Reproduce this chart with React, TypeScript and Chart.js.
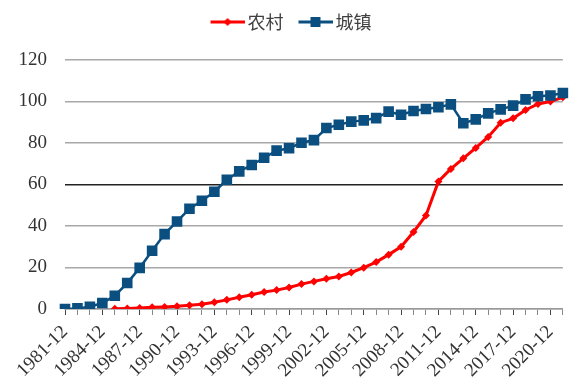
import React, { useEffect, useRef } from 'react';
import { Chart, registerables } from 'chart.js';

Chart.register(...registerables);

const categories = [
  '1981-12', '1982-12', '1983-12', '1984-12', '1985-12', '1986-12', '1987-12', '1988-12', '1989-12', '1990-12',
  '1991-12', '1992-12', '1993-12', '1994-12', '1995-12', '1996-12', '1997-12', '1998-12', '1999-12', '2000-12',
  '2001-12', '2002-12', '2003-12', '2004-12', '2005-12', '2006-12', '2007-12', '2008-12', '2009-12', '2010-12',
  '2011-12', '2012-12', '2013-12', '2014-12', '2015-12', '2016-12', '2017-12', '2018-12', '2019-12', '2020-12',
  '2021-12',
];

const shownTickLabels = [
  '1981-12', '1984-12', '1987-12', '1990-12', '1993-12', '1996-12', '1999-12',
  '2002-12', '2005-12', '2008-12', '2011-12', '2014-12', '2017-12', '2020-12',
];

const rural = [
  null, null, null, null,
  0.1, 0.3, 0.5, 0.8, 1.0, 1.3, 1.8, 2.3, 3.3, 4.4, 5.7, 6.9, 8.2, 9.1, 10.4,
  12.0, 13.3, 14.6, 15.7, 17.6, 19.9, 22.6, 26.2, 30.0, 37.1, 45.1, 61.5, 67.5, 72.6, 77.6,
  82.9, 89.8, 91.9, 95.9, 98.8, 100.0, 102.0,
];

const urban = [
  0, 0.3, 1.1, 2.9, 6.4, 12.5, 19.8, 28.1, 36.1, 42.2, 48.3, 52.2, 56.5, 62.3, 66.3, 69.4, 72.9, 76.3, 77.5,
  80.1, 81.4, 87.2, 88.8, 90.3, 90.9, 92.0, 95.1, 93.6, 95.4, 96.4, 97.2, 98.6, 89.5, 91.4, 94.3, 96.2,
  98.0, 101.0, 102.5, 102.9, 104.1,
];

const yTicks = [0, 20, 40, 60, 80, 100, 120];

const RED = '#ff0000';
const BLUE = '#0a4f80';

function legendIcon(color: string, marker: 'diamond' | 'square'): HTMLCanvasElement {
  const c = document.createElement('canvas');
  c.width = 40;
  c.height = 14;
  const ctx = c.getContext('2d')!;
  ctx.strokeStyle = color;
  ctx.lineWidth = 3;
  ctx.beginPath();
  ctx.moveTo(6, 7);
  ctx.lineTo(40, 7);
  ctx.stroke();
  ctx.fillStyle = color;
  const cx = 23;
  if (marker === 'diamond') {
    ctx.beginPath();
    ctx.moveTo(cx, 3);
    ctx.lineTo(cx + 4, 7);
    ctx.lineTo(cx, 11);
    ctx.lineTo(cx - 4, 7);
    ctx.closePath();
    ctx.fill();
  } else {
    ctx.fillRect(cx - 5, 2, 10, 10);
  }
  return c;
}

const legendSpacer = {
  id: 'legendSpacer',
  beforeLayout(chart: any) {
    const lg = chart.legend;
    if (lg && !lg._spacerPatched) {
      const orig = lg.fit.bind(lg);
      lg.fit = function () {
        orig();
        this.height += 19;
      };
      lg._spacerPatched = true;
    }
  },
};

export default function App() {
  const ref = useRef<HTMLCanvasElement>(null);

  useEffect(() => {
    if (!ref.current) return;
    const redIcon = legendIcon(RED, 'diamond');
    const blueIcon = legendIcon(BLUE, 'square');
    const chart = new Chart(ref.current, {
      type: 'line',
      data: {
        labels: categories,
        datasets: [
          {
            label: '城镇',
            data: urban,
            borderColor: BLUE,
            backgroundColor: BLUE,
            borderWidth: 2.5,
            pointStyle: 'rect',
            pointRadius: 7.5,
            pointHoverRadius: 7.5,
            pointBorderWidth: 0,
            tension: 0,
          },
          {
            label: '农村',
            data: rural,
            borderColor: RED,
            backgroundColor: RED,
            borderWidth: 3,
            pointStyle: 'rectRot',
            pointRadius: 4,
            pointHoverRadius: 4,
            pointBorderWidth: 0,
            tension: 0,
            spanGaps: false,
          },
        ],
      },
      plugins: [legendSpacer],
      options: {
        animation: false,
        responsive: false,
        maintainAspectRatio: false,
        layout: { padding: { left: 10, right: 13, top: -2, bottom: 0 } },
        plugins: {
          tooltip: { enabled: false },
          legend: {
            display: true,
            position: 'top',
            labels: {
              usePointStyle: true,
              pointStyleWidth: 28,
              padding: 15,
              color: '#404040',
              font: { family: '"Noto Sans CJK SC", sans-serif', size: 18 },
              generateLabels: () => [
                { text: '农村', pointStyle: redIcon, fillStyle: RED, strokeStyle: RED, lineWidth: 0, datasetIndex: 1, fontColor: '#404040' } as any,
                { text: '城镇', pointStyle: blueIcon, fillStyle: BLUE, strokeStyle: BLUE, lineWidth: 0, datasetIndex: 0, fontColor: '#404040' } as any,
              ],
            },
          },
        },
        scales: {
          x: {
            type: 'category',
            offset: false,
            grid: {
              drawOnChartArea: false,
              drawTicks: true,
              tickLength: 6,
              tickColor: (ctx: any) => (shownTickLabels.includes(categories[ctx.index]) ? '#444' : '#888'),
              tickWidth: 1,
            },
            border: { display: true, color: '#999', width: 1.5 },
            ticks: {
              autoSkip: false,
              maxRotation: 45,
              minRotation: 45,
              padding: 6,
              color: '#333',
              font: { family: '"Liberation Serif", serif', size: 19 },
              callback: (_v: any, i: number) => (shownTickLabels.includes(categories[i]) ? categories[i] : ''),
            },
            afterFit: (s: any) => { s.height = 81; },
          },
          y: {
            min: 0,
            max: 120,
            afterBuildTicks: (s: any) => { s.ticks = yTicks.map((v) => ({ value: v })); },
            grid: {
              drawTicks: false,
              color: (ctx: any) => (ctx.tick && ctx.tick.value === 60 ? '#222' : '#a8a8a8'),
              lineWidth: 1.5,
            },
            border: { display: false },
            ticks: {
              padding: 18,
              color: '#333',
              font: { family: '"Liberation Serif", serif', size: 19 },
            },
            afterFit: (s: any) => { s.width = 55; },
          },
        },
      },
    });
    return () => chart.destroy();
  }, []);

  return (
    <div style={{ position: 'fixed', left: 0, top: 0, width: 585, height: 390, background: '#fff' }}>
      <canvas ref={ref} width={585} height={390} style={{ width: 585, height: 390 }} />
    </div>
  );
}
